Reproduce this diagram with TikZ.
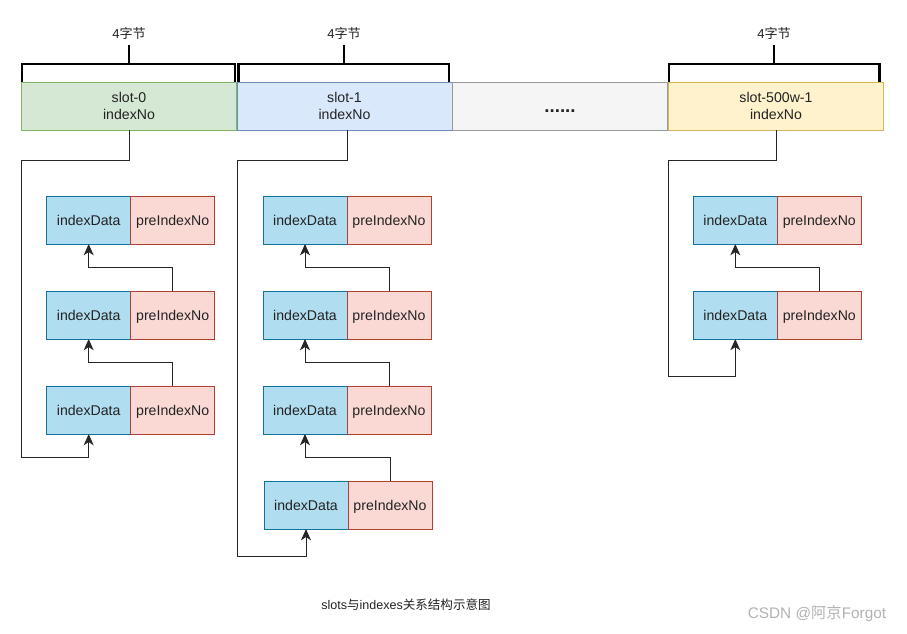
\documentclass[tikz,border=0pt]{standalone}
\usepackage{fontspec}
\setmainfont{Liberation Sans}
\newfontfamily\cjk{Noto Sans CJK SC}
\usetikzlibrary{arrows.meta}
\definecolor{sgfill}{HTML}{D5E8D4}\definecolor{sgline}{HTML}{82B366}
\definecolor{sbfill}{HTML}{DAE8FC}\definecolor{sbline}{HTML}{6C8EBF}
\definecolor{sxfill}{HTML}{F5F5F5}\definecolor{sxline}{HTML}{999999}
\definecolor{syfill}{HTML}{FFF2CC}\definecolor{syline}{HTML}{D6B656}
\definecolor{idfill}{HTML}{B1DDF0}\definecolor{idline}{HTML}{10739E}
\definecolor{pifill}{HTML}{FAD9D5}\definecolor{piline}{HTML}{AE4132}
\definecolor{txt}{HTML}{222222}
\tikzset{
  base/.style={inner sep=0pt,outer sep=0pt,line width=0.75pt,text=txt,font=\fontsize{10.6}{12.3}\selectfont,align=center},
  slotbox/.style={base,draw,minimum width=161.25pt,minimum height=36pt},
  cellbox/.style={base,minimum width=63pt,minimum height=36pt,text height=10.5pt,text depth=1.9pt},
  idbox/.style={cellbox,draw=idline,fill=idfill,anchor=north west},
  pibox/.style={cellbox,draw=piline,fill=pifill,anchor=west},
  brace/.style={line width=2.2pt,line cap=rect},
  link/.style={line width=0.75pt,draw=black!85},
  arr/.style={link,-{Stealth[length=8.5pt,width=7.5pt,inset=2.5pt]}},
  lbl/.style={base,font=\fontsize{9.8}{11}\selectfont}
}
\begin{document}
\begin{tikzpicture}[x=0.75pt,y=-0.75pt]
\useasboundingbox (0,0) rectangle (907,633);
% slots
\node[slotbox,draw=sgline,fill=sgfill] (s0) at (129,106) {slot-0\\indexNo};
\node[slotbox,draw=sbline,fill=sbfill] (s1) at (344.5,106) {slot-1\\indexNo};
\node[slotbox,draw=sxline,fill=sxfill] (sd) at (560,106) {};
\node[base,font=\fontsize{14}{14}\bfseries] (sdt) at (560,111) {......};
\node[slotbox,draw=syline,fill=syfill] (sn) at (776,106) {slot-500w-1\\indexNo};
% brackets
\coordinate (b0l) at (22,81); \coordinate (b0r) at (235,81);
\coordinate (b1l) at (238.5,81); \coordinate (b1r) at (449,81);
\coordinate (b2l) at (669,81); \coordinate (b2r) at (879.5,81);
\draw[brace] (b0l) -- ++(0,-17) -- ([yshift=17*0.75pt]b0r) -- (b0r);
\draw[brace] (129,64) -- (129,46);
\draw[brace] (b1l) -- ++(0,-17) -- ([yshift=17*0.75pt]b1r) -- (b1r);
\draw[brace] (344,64) -- (344,46);
\draw[brace] (b2l) -- ++(0,-17) -- ([yshift=17*0.75pt]b2r) -- (b2r);
\draw[brace] (774,64) -- (774,46);
\node[lbl] (t0) at (129,33) {4{\cjk 字节}};
\node[lbl] (t1) at (344,33) {4{\cjk 字节}};
\node[lbl] (t2) at (774,33) {4{\cjk 字节}};
% column 0
\foreach \i/\y in {1/196,2/291,3/386}{
  \node[idbox] (a\i d) at (46.7,\y) {indexData};
  \node[pibox] (a\i p) at (a\i d.east) {preIndexNo};
}
% column 1
\foreach \i/\y/\x in {1/196/263,2/291/263,3/386/263,4/481/264}{
  \node[idbox] (b\i d) at (\x,\y) {indexData};
  \node[pibox] (b\i p) at (b\i d.east) {preIndexNo};
}
% column 2
\foreach \i/\y in {1/196,2/291}{
  \node[idbox] (c\i d) at (693.3,\y) {indexData};
  \node[pibox] (c\i p) at (c\i d.east) {preIndexNo};
}
% slot -> last entry
\coordinate (k0a) at (21.5,160); \coordinate (k0b) at (21.5,457);
\draw[arr] (s0.south) |- (k0a) -- (k0b) -| (a3d.south);
\coordinate (k1a) at (237.5,160); \coordinate (k1b) at (237.5,556);
\draw[arr] ([xshift=2pt]s1.south) |- (k1a) -- (k1b) -| (b4d.south);
\coordinate (k2a) at (668.5,160); \coordinate (k2b) at (668.5,376);
\draw[arr] (sn.south) |- (k2a) -- (k2b) -| (c2d.south);
% chain arrows
\draw[arr] (a3p.north) -- ++(0,-23.5) -| (a2d.south);
\draw[arr] (a2p.north) -- ++(0,-23.5) -| (a1d.south);
\draw[arr] (b4p.north) -- ++(0,-23.5) -| (b3d.south);
\draw[arr] (b3p.north) -- ++(0,-23.5) -| (b2d.south);
\draw[arr] (b2p.north) -- ++(0,-23.5) -| (b1d.south);
\draw[arr] (c2p.north) -- ++(0,-23.5) -| (c1d.south);
% caption and watermark
\node[lbl,font=\fontsize{9.4}{11}\selectfont] (cap) at (406,605) {slots{\cjk 与}indexes{\cjk 关系结构示意图}};
\node[lbl,text=black!30,font=\fontsize{11.5}{13}\selectfont] (wm) at (817,614) {CSDN @{\cjk 阿京}Forgot};
\end{tikzpicture}
\end{document}
